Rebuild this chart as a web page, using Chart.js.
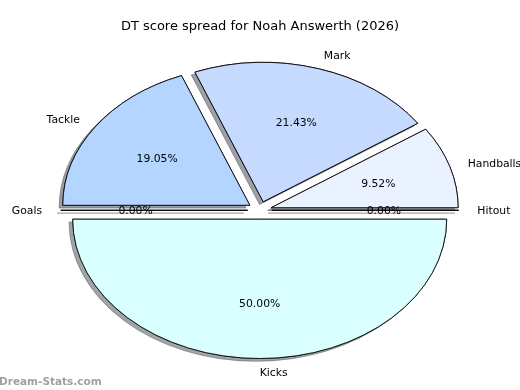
<!DOCTYPE html>
<html><head><meta charset="utf-8">
<script src="https://cdn.jsdelivr.net/npm/chart.js@4"></script>
<style>html,body{margin:0;padding:0;background:#fff}#wrap{width:520px;height:390px;position:relative}</style>
</head><body><div id="wrap"><canvas id="c" width="520" height="390"></canvas></div>
<script>
// ---- data ----
const categories = ['Kicks', 'Goals', 'Tackle', 'Mark', 'Handballs', 'Hitout'];
const dtPoints = [21, 0, 8, 9, 4, 0];
const titleText = 'DT score spread for Noah Answerth (2026)';
const watermarkText = 'Dream-Stats.com';

// ---- styles / geometry ----
const sliceColors = ['#d9ffff', '#d9ffff', '#b3d5ff', '#c6d9ff', '#eaf1ff', '#eaf1ff'];
const PIE = {cx: 259.7, cy: 210.3, rx: 187, ry: 139.3, explode: 0.064,
             labelDist: 1.1, pctDist: 0.6, shadowX: -3.7, shadowY: 2.8, textDy: 1.2};

function shadeOf(hex) {
  const n = parseInt(hex.slice(1), 16);
  const r = (n >> 16) & 255, g = (n >> 8) & 255, b = n & 255;
  return 'rgba(' + Math.round(r * 0.3) + ',' + Math.round(g * 0.3) + ',' + Math.round(b * 0.3) + ',0.5)';
}

const ellipsePie = {
  id: 'ellipsePie',
  beforeDatasetsDraw(chart) {
    const meta = chart.getDatasetMeta(0);
    const els = meta.data;
    if (!els.length) return false;
    const ctx = chart.ctx;
    const R = els[0].outerRadius, ox = els[0].x, oy = els[0].y;
    const sx = PIE.rx / R, sy = PIE.ry / R;
    const e = PIE.explode * R;
    for (const pass of [0, 1]) {
      els.forEach((el, i) => {
        const mid = (el.startAngle + el.endAngle) / 2;
        ctx.save();
        if (pass === 0) {
          ctx.shadowColor = shadeOf(sliceColors[i]);
          ctx.shadowOffsetX = PIE.shadowX;
          ctx.shadowOffsetY = PIE.shadowY;
          ctx.shadowBlur = 0;
        }
        ctx.translate(PIE.cx, PIE.cy);
        ctx.scale(sx, sy);
        ctx.translate(-ox, -oy);
        ctx.translate(Math.cos(mid) * e, Math.sin(mid) * e);
        if (el.circumference > 0) {
          el.draw(ctx);
        } else {
          ctx.beginPath();
          ctx.moveTo(ox, oy);
          ctx.lineTo(ox + Math.cos(el.startAngle) * R, oy + Math.sin(el.startAngle) * R);
          ctx.strokeStyle = '#000';
          ctx.lineWidth = 1.3;
          ctx.stroke();
        }
        ctx.restore();
      });
    }
    return false;
  },
  afterDraw(chart) {
    const meta = chart.getDatasetMeta(0);
    const ctx = chart.ctx;
    const total = dtPoints.reduce((a, b) => a + b, 0);
    ctx.save();
    ctx.fillStyle = '#000';
    ctx.textBaseline = 'middle';
    ctx.font = '10.8px "DejaVu Sans"';
    meta.data.forEach((el, i) => {
      const mid = (el.startAngle + el.endAngle) / 2;
      const c = Math.cos(mid), s = Math.sin(mid);
      const lf = PIE.labelDist + PIE.explode, pf = PIE.pctDist + PIE.explode;
      const lx = PIE.cx + PIE.rx * lf * c, ly = PIE.cy + PIE.ry * lf * s + PIE.textDy;
      ctx.textAlign = c > -1e-9 ? 'left' : 'right';
      ctx.fillText(categories[i], lx, ly);
      const px = PIE.cx + PIE.rx * pf * c, py = PIE.cy + PIE.ry * pf * s + PIE.textDy;
      ctx.textAlign = 'center';
      ctx.fillText((dtPoints[i] / total * 100).toFixed(2) + '%', px, py);
    });
    ctx.font = 'bold 10.5px "DejaVu Sans"';
    ctx.fillStyle = '#a0a0a0';
    ctx.textAlign = 'left';
    ctx.textBaseline = 'alphabetic';
    ctx.fillText(watermarkText, -1, 384.5);
    ctx.restore();
  }
};

new Chart(document.getElementById('c'), {
  type: 'pie',
  data: {
    labels: categories,
    datasets: [{
      data: dtPoints,
      backgroundColor: sliceColors,
      borderColor: '#000',
      borderWidth: 0.9,
      offset: 0,
      hoverOffset: 0
    }]
  },
  options: {
    responsive: false,
    animation: false,
    events: [],
    rotation: 90,
    plugins: {
      legend: {display: false},
      tooltip: {enabled: false},
      title: {
        display: true,
        text: titleText,
        color: '#000',
        font: {family: 'DejaVu Sans', size: 13, weight: 'normal'},
        padding: {top: 19, bottom: 10}
      }
    }
  },
  plugins: [ellipsePie]
});
</script>
</body></html>
